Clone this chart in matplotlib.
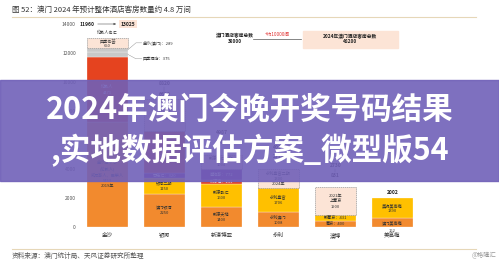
import matplotlib
matplotlib.use('Agg')
import matplotlib.pyplot as plt
from matplotlib.patches import Rectangle
from matplotlib.lines import Line2D

plt.rcParams['font.family'] = ['Noto Sans CJK SC', 'DejaVu Sans']

categories = ['金沙', '银河', '新濠博亚', '永利', '澳博', '美高梅']

# 各运营商分段（自下而上）
sands_vals = [7240, 4471, 375, 289, 650]
sands_kinds = ['orange', 'red', 'gray', 'gray', 'new']
sands_texts = ['金沙城中心\n(伦敦人)\n威尼斯人、巴黎人\n5453\n2019年', '伦敦人\n4471', '', '', '四季名荟\n650']

galaxy_vals = [2250, 1150, 320, 2900, 2200]
galaxy_kinds = ['orange', 'yellow', 'purple', 'red', 'new']
galaxy_texts = ['澳门银河\n2250', '银河二期\n1150', '百老汇：320', '银河三期\n2900', '2021年\n(2200)']

melco_vals = [1400, 1600, 211, 772, 1004]
melco_kinds = ['orange', 'yellow', 'red', 'purple', 'new']
melco_texts = ['新濠天地\n1400', '新濠影汇\n1600', '新濠锋：211', '摩珀斯：772', '新濠影汇二期\n1004']

wynn_vals = [1008, 1706, 1300]
wynn_kinds = ['orange', 'yellow', 'new']
wynn_texts = ['永利澳门\n1008', '永利皇宫\n1706', '永利皇宫二期\n1300\n2024年']

sjm_vals = [400, 431, 1900]
sjm_kinds = ['orange', 'yellow', 'new']
sjm_texts = ['葡京：400', '新葡京：431', '2021年\n上葡京\n1900']

mgm_vals = [612, 1390]
mgm_kinds = ['orange', 'yellow']
mgm_texts = ['澳门美高梅', '美狮美高梅\n1390']

# 柱顶数字
top_hi = ['', '8820', '4987', '4014', '2730', '2002']
top_lo = ['', '6620', '3983', '2714', '831', '']

colors = {'orange': '#F28A2E', 'yellow': '#FFC000', 'red': '#E5431F',
          'gray': '#C8C8C8', 'purple': '#7A2E9C', 'new': '#FCE4D6'}

W, H = 499, 263
fig = plt.figure(figsize=(W / 100, H / 100), dpi=100)
fig.patch.set_facecolor('white')

def fx(p):
    return p / W

def fy(p):
    return 1 - p / H

ax = fig.add_axes([fx(80), fy(227), 396 / W, (227 - 24) / H])
ax.set_xlim(-0.482, 6.465)
ax.set_ylim(0, 14000)
for s in ax.spines.values():
    s.set_visible(False)
ax.set_yticks(range(0, 14001, 2000))
ax.set_yticklabels([str(v) for v in range(0, 14001, 2000)], fontsize=3.6, color='#555555')
ax.set_xticks(range(len(categories)))
ax.set_xticklabels(categories, fontsize=4, color='#333333')
ax.tick_params(length=0, pad=3)
ax.tick_params(axis='x', pad=4)

stacks = [(sands_vals, sands_kinds, sands_texts),
          (galaxy_vals, galaxy_kinds, galaxy_texts),
          (melco_vals, melco_kinds, melco_texts),
          (wynn_vals, wynn_kinds, wynn_texts),
          (sjm_vals, sjm_kinds, sjm_texts),
          (mgm_vals, mgm_kinds, mgm_texts)]

bw = 0.72
totals = []
for i, (vals, kinds, texts) in enumerate(stacks):
    bottom = 0
    for v, k, t in zip(vals, kinds, texts):
        if k == 'new':
            ax.bar(i, v, bottom=bottom, width=bw, color=colors[k], edgecolor='#9A9A9A',
                   linestyle=(0, (2, 1)), linewidth=0.5)
        else:
            ax.bar(i, v, bottom=bottom, width=bw, color=colors[k], edgecolor='white', linewidth=0.2)
        if t:
            tc = 'white' if k in ('red', 'purple') else '#333333'
            ax.text(i, bottom + v / 2, t, ha='center', va='center', fontsize=3,
                    color=tc, linespacing=1.5)
        bottom += v
    totals.append(bottom)

# 柱顶数字（上下两行之间画一条短线）
hi_off = [0, 1050, 1500, 1500, 1500, 400]
lo_off = [0, 300, 850, 850, 850, 0]
for i in range(len(categories)):
    if top_hi[i]:
        ax.text(i, totals[i] + hi_off[i], top_hi[i], ha='center', va='center', fontsize=3.6,
                fontweight='bold', color='#222222')
    if top_lo[i]:
        ax.text(i, totals[i] + lo_off[i], top_lo[i], ha='center', va='center', fontsize=3.6,
                fontweight='bold', color='#222222')
        ax.plot([i, i], [totals[i] + hi_off[i] - 200, totals[i] + lo_off[i] + 200],
                color='#555555', lw=0.3)

# 金沙顶部
ax.text(-0.36, 14000, '11960', ha='center', va='center', fontsize=3.6, fontweight='bold', color='#222222')
ax.annotate('', xy=(0.2, 14000), xytext=(-0.22, 14000),
            arrowprops=dict(arrowstyle='-|>', color='#555555', lw=0.4, mutation_scale=3))
ax.text(0.36, 14000, '13025', ha='center', va='center', fontsize=3.6, fontweight='bold', color='#222222',
        bbox=dict(boxstyle='square,pad=0.3', fc='#FCE4D6', ec='none'))
ax.text(0, totals[0] + 350, '伦敦人名汇', ha='center', va='center', fontsize=3, color='#333333')

# 金沙灰色分段的旁注
sands_side = ['四季酒店：375', '金沙(澳门)：289']
side_y = [11600, 12700]
seg_mid = [sands_vals[0] + sands_vals[1] + sands_vals[2] / 2,
           sands_vals[0] + sands_vals[1] + sands_vals[2] + sands_vals[3] / 2]
for t, yv, ym in zip(sands_side, side_y, seg_mid):
    ax.plot([bw / 2, 0.5, 0.6], [ym, yv, yv], color='#888888', lw=0.3)
    ax.text(0.62, yv, t, ha='left', va='center', fontsize=3, color='#333333')

# 美高梅下方
ax.text(5, -150, '162', ha='center', va='top', fontsize=3, color='#333333', clip_on=False)

# 右上角总量标注
fig.text(fx(235), fy(35.7), '澳门酒店客房总数', ha='center', va='center', fontsize=3.4,
         fontweight='bold', color='#222222')
fig.text(fx(235), fy(41.2), '38000', ha='center', va='center', fontsize=3.4,
         fontweight='bold', color='#222222')
fig.add_artist(Line2D([fx(253), fx(301)], [fy(39), fy(39)], color='#555555', lw=0.5))
fig.text(fx(277), fy(34.5), '+约10000间', ha='center', va='center', fontsize=3.4, color='#E03030')
fig.patches.append(Rectangle((fx(303), fy(48)), 95 / W, 17 / H, transform=fig.transFigure,
                             color='#FCE4D6', zorder=1))
fig.text(fx(350), fy(36.7), '2024年澳门酒店客房总数', ha='center', va='center', fontsize=3.4,
         fontweight='bold', color='#222222', zorder=2)
fig.text(fx(350), fy(41.7), '48200', ha='center', va='center', fontsize=3.4,
         fontweight='bold', color='#222222', zorder=2)

# 标题与来源
fig.text(fx(12), fy(10), '图 52：澳门 2024 年预计整体酒店客房数量约 4.8 万间', ha='left', va='center',
         fontsize=5.4, color='#333333')
fig.add_artist(Line2D([fx(12), fx(476)], [fy(16.5), fy(16.5)], color='#E6D7B8', lw=0.8))
fig.add_artist(Line2D([fx(12), fx(476)], [fy(248.5), fy(248.5)], color='#E6D7B8', lw=0.8))
fig.text(fx(12), fy(256), '资料来源：澳门统计局、天风证券研究所整理', ha='left', va='center',
         fontsize=4.8, color='#555555')
fig.text(fx(496), fy(255), '@格隆汇', ha='right', va='center', fontsize=4.5, color='#9A9A9A')

# 紫色横幅
fig.patches.append(Rectangle((0, fy(181)), 1, 101 / H, transform=fig.transFigure,
                             color='#7060B8', alpha=0.9, zorder=10))
fig.text(0.5, fy(109), '2024年澳门今晚开奖号码结果', ha='center', va='center', fontsize=22,
         fontweight='bold', color='white', zorder=11)
fig.text(0.5, fy(151), ',实地数据评估方案_微型版54', ha='center', va='center', fontsize=22,
         fontweight='bold', color='white', zorder=11)

fig.savefig('out.png', dpi=100, facecolor='white')
